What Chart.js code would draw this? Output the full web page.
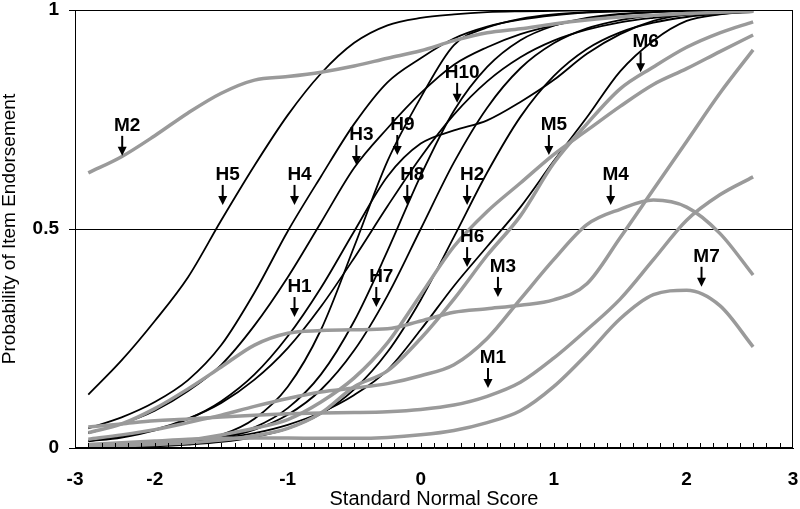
<!DOCTYPE html>
<html><head><meta charset="utf-8">
<script src="https://cdn.jsdelivr.net/npm/chart.js@4.4.1/dist/chart.umd.min.js"></script>
<style>html,body{margin:0;padding:0;background:#fff;} #wrap{width:800px;height:509px;}</style>
</head><body><div id="wrap"><canvas id="c" width="800" height="509"></canvas></div>
<script>
// Standard normal score grid
const xs = [-2.5,-2.25,-2,-1.75,-1.5,-1.25,-1,-0.75,-0.5,-0.25,0,0.25,0.5,0.75,1,1.25,1.5,1.75,2,2.25,2.5];

// H items (black curves)
const H1  = [0.015,0.024,0.04,0.066,0.107,0.168,0.255,0.366,0.495,0.62,0.695,0.725,0.748,0.79,0.84,0.9,0.945,0.975,0.99,0.996,0.999];
const H2  = [0.001,0.002,0.004,0.008,0.014,0.025,0.044,0.078,0.134,0.219,0.338,0.482,0.629,0.756,0.849,0.911,0.949,0.971,0.984,0.991,0.995];
const H3  = [0.034,0.055,0.085,0.13,0.19,0.28,0.39,0.515,0.64,0.73,0.81,0.875,0.915,0.945,0.965,0.98,0.99,0.995,0.998,0.999,1];
const H4  = [0.045,0.07,0.105,0.155,0.235,0.355,0.495,0.62,0.74,0.835,0.89,0.935,0.962,0.978,0.988,0.994,0.997,0.999,1,1,1];
const H5  = [0.122,0.2,0.29,0.39,0.52,0.645,0.76,0.855,0.925,0.965,0.982,0.99,0.995,0.997,0.998,0.999,1,1,1,1,1];
const H6  = [0.004,0.006,0.009,0.014,0.022,0.034,0.053,0.081,0.121,0.178,0.27,0.37,0.46,0.55,0.655,0.755,0.86,0.93,0.975,0.99,0.997];
const H7  = [0.002,0.004,0.007,0.012,0.023,0.042,0.076,0.133,0.223,0.348,0.5,0.652,0.777,0.867,0.924,0.958,0.977,0.988,0.993,0.996,0.998];
const H8  = [0.002,0.003,0.006,0.012,0.024,0.047,0.091,0.168,0.29,0.45,0.622,0.77,0.87,0.931,0.964,0.982,0.991,0.995,0.998,0.999,1];
const H9  = [0.001,0.003,0.006,0.014,0.03,0.067,0.14,0.27,0.46,0.655,0.8,0.92,0.96,0.98,0.99,0.995,0.998,0.999,1,1,1];
const H10 = [0.017,0.027,0.042,0.067,0.103,0.156,0.228,0.323,0.434,0.552,0.664,0.761,0.837,0.892,0.93,0.955,0.972,0.982,0.989,0.993,0.996];

// M items (grey curves)
const M1 = [0.048,0.055,0.062,0.066,0.071,0.075,0.078,0.08,0.081,0.083,0.088,0.098,0.118,0.15,0.205,0.27,0.34,0.43,0.52,0.578,0.619];
const M2 = [0.628,0.665,0.713,0.765,0.81,0.84,0.848,0.858,0.872,0.89,0.907,0.93,0.948,0.957,0.968,0.977,0.984,0.988,0.992,0.995,0.997];
const M3 = [0.035,0.055,0.09,0.135,0.185,0.235,0.262,0.268,0.27,0.272,0.29,0.31,0.318,0.326,0.338,0.375,0.48,0.59,0.7,0.81,0.909];
const M4 = [0.02,0.03,0.042,0.058,0.075,0.095,0.113,0.128,0.137,0.147,0.165,0.19,0.25,0.34,0.43,0.51,0.545,0.566,0.55,0.49,0.395];
const M5 = [0.005,0.008,0.012,0.018,0.03,0.045,0.065,0.105,0.16,0.24,0.35,0.46,0.54,0.605,0.67,0.725,0.78,0.83,0.866,0.905,0.943];
const M6 = [0.003,0.005,0.008,0.012,0.018,0.028,0.045,0.08,0.14,0.176,0.25,0.34,0.44,0.53,0.65,0.74,0.82,0.87,0.915,0.948,0.973];
const M7 = [0.008,0.012,0.016,0.02,0.022,0.023,0.023,0.022,0.022,0.024,0.03,0.04,0.058,0.085,0.14,0.214,0.295,0.35,0.36,0.325,0.231];

const hSeries = [H1,H2,H3,H4,H5,H6,H7,H8,H9,H10];
const hNames  = ['H1','H2','H3','H4','H5','H6','H7','H8','H9','H10'];
const mSeries = [M1,M2,M3,M4,M5,M6,M7];
const mNames  = ['M1','M2','M3','M4','M5','M6','M7'];

// axis ticks
const xTickVals   = [-2.6,-2,-1,0,1,2,2.8];
const xTickLabels = ['-3','-2','-1','0','1','2','3'];
const yTickVals   = [0,0.5,1];
const yTickLabels = ['0','0.5','1'];

// item labels: arrow tip at (annX, annY) in data units
const annLabels = ['M2','H5','H4','H3','H9','H8','H10','H2','M5','M6','M4','H6','M3','M7','M1','H1','H7'];
const annX = [-2.245,-1.489,-0.949,-0.484,-0.176,-0.101,0.274,0.349,0.964,1.654,1.429,0.349,0.581,2.112,0.506,-0.949,-0.334];
const annY = [0.667,0.555,0.555,0.646,0.669,0.555,0.788,0.555,0.669,0.858,0.555,0.413,0.345,0.368,0.137,0.299,0.322];

const FONT = "'Liberation Sans', Arial, Helvetica, sans-serif";

const datasets = [];
mSeries.forEach((s,i)=>datasets.push({label:mNames[i], data:xs.map((x,j)=>({x, y:s[j]})), borderColor:'#9a9a9a', borderWidth:3.5}));
hSeries.forEach((s,i)=>datasets.push({label:hNames[i], data:xs.map((x,j)=>({x, y:s[j]})), borderColor:'#000', borderWidth:1.8}));

const decor = {
  id:'decor',
  afterDatasetsDraw(chart){
    const {ctx, chartArea:a, scales:{x,y}} = chart;
    ctx.save();
    ctx.strokeStyle='#000'; ctx.lineWidth=1;
    ctx.strokeRect(a.left+0.5, a.top+0.5, a.right-a.left-1, a.bottom-a.top-1);
    for (let k=-25;k<=27;k++){
      const px=Math.round(x.getPixelForValue(k/10))+0.5;
      ctx.beginPath(); ctx.moveTo(px,a.bottom); ctx.lineTo(px,a.bottom-5); ctx.stroke();
    }
    ctx.font='bold 19px '+FONT; ctx.textAlign='center'; ctx.textBaseline='middle'; ctx.fillStyle='#000';
    annLabels.forEach((t,i)=>{
      const px=x.getPixelForValue(annX[i]), py=y.getPixelForValue(annY[i]);
      ctx.fillText(t, px+5, py-30);
      ctx.lineWidth=2;
      ctx.beginPath(); ctx.moveTo(px,py-20); ctx.lineTo(px,py-8); ctx.stroke();
      ctx.beginPath(); ctx.moveTo(px-4.5,py-9); ctx.lineTo(px+4.5,py-9); ctx.lineTo(px,py); ctx.closePath(); ctx.fill();
    });
    ctx.restore();
  }
};

new Chart(document.getElementById('c'), {
  type:'line',
  data:{datasets},
  options:{
    responsive:false, animation:false, devicePixelRatio:1,
    layout:{padding:{top:10,right:7,left:0,bottom:0}},
    plugins:{legend:{display:false}, tooltip:{enabled:false}},
    elements:{point:{radius:0}, line:{cubicInterpolationMode:'monotone'}},
    scales:{
      x:{type:'linear', min:-2.6, max:2.8,
        afterBuildTicks(s){ s.ticks = xTickVals.map(v=>({value:v})); },
        afterFit(s){ s.height=61; s.paddingLeft=0; s.paddingRight=0; },
        grid:{display:false, drawTicks:false},
        border:{display:true, color:'#000'},
        ticks:{autoSkip:false, maxRotation:0, padding:20, color:'#000',
          font:{family:FONT,size:19,weight:'bold'}, callback:(v,i)=>xTickLabels[i]},
        title:{display:true, text:'Standard Normal Score', color:'#000',
          font:{family:FONT,size:20,lineHeight:1}, padding:0}
      },
      y:{min:0, max:1,
        afterBuildTicks(s){ s.ticks = yTickVals.map(v=>({value:v})); },
        afterFit(s){ s.width=75; s.paddingTop=0; s.paddingBottom=0; },
        grid:{color:(c)=> (c.tick && c.tick.value===0.5) ? '#000' : 'rgba(0,0,0,0)', tickColor:'#000', tickLength:6, lineWidth:1},
        border:{display:true, color:'#000'},
        ticks:{padding:10, color:'#000', font:{family:FONT,size:19,weight:'bold'}, callback:(v,i)=>yTickLabels[i]},
        title:{display:true, text:'Probability of Item Endorsement', color:'#000',
          font:{family:FONT,size:19,lineHeight:1}, padding:0}
      }
    }
  },
  plugins:[decor]
});
</script></body></html>
